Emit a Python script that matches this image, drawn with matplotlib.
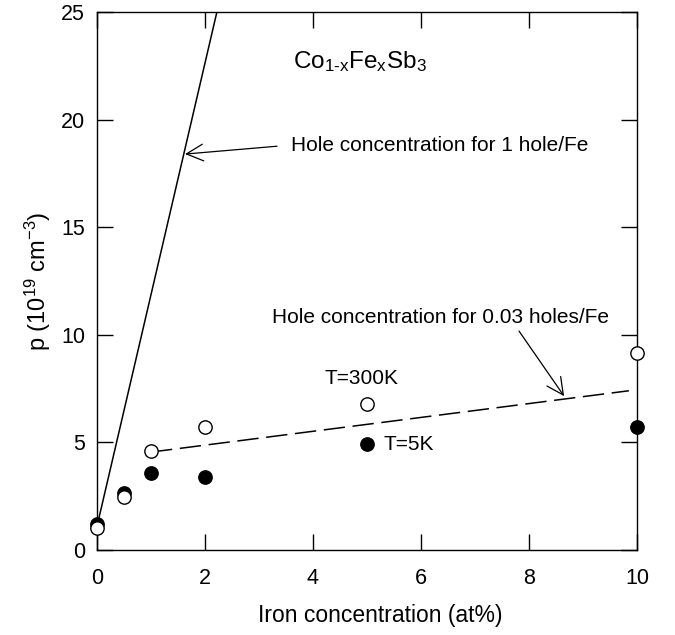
import matplotlib
matplotlib.use('Agg')
import matplotlib.pyplot as plt

plt.rcParams['font.family'] = ['Liberation Sans', 'DejaVu Sans']
plt.rcParams['mathtext.fontset'] = 'custom'
plt.rcParams['mathtext.rm'] = 'Liberation Sans'
plt.rcParams['mathtext.it'] = 'Liberation Sans'
plt.rcParams['mathtext.default'] = 'regular'

# iron content (at%) and hole concentration (10^19 cm^-3)
fe_at = [0, 0.5, 1, 2, 5, 10]
p_300k = [1.0, 2.45, 4.6, 5.7, 6.8, 9.15]
p_5k = [1.2, 2.65, 3.6, 3.4, 4.93, 5.7]

# reference lines: 1 hole/Fe and 0.03 holes/Fe
one_hole_x = [0, 2.22]
one_hole_p = [1.1, 25]
frac_hole_x = [1, 9.85]
frac_hole_p = [4.55, 7.4]

fig = plt.figure(figsize=(6.75, 6.35), dpi=100)
ax = fig.add_axes([0.1437, 0.1339, 0.80, 0.8471])

ax.plot(one_hole_x, one_hole_p, color='black', lw=1.1)
ax.plot(frac_hole_x, frac_hole_p, color='black', lw=1.1, dashes=(14, 5))

ax.plot(fe_at, p_5k, 'o', ms=9.6, mfc='black', mec='black', mew=1, clip_on=False, zorder=3)
ax.plot(fe_at, p_300k, 'o', ms=9.6, mfc='white', mec='black', mew=1, clip_on=False, zorder=4)

ax.set_xlim(0, 10)
ax.set_ylim(0, 25)
ax.set_xticks([0, 2, 4, 6, 8, 10])
ax.set_yticks([0, 5, 10, 15, 20, 25])
ax.tick_params(direction='in', length=11.5, width=1, top=True, right=True, labelsize=15.5)
ax.tick_params(axis='x', pad=13)
ax.tick_params(axis='y', pad=8.5)
for s in ax.spines.values():
    s.set_linewidth(1)

ax.set_xlabel('Iron concentration (at%)', fontsize=16.5)
ax.xaxis.set_label_coords(0.525, -0.1)
ax.set_ylabel(r'p (10$^{19}$ cm$^{-3}$)', fontsize=17, labelpad=6)

ax.text(3.63, 22.68, r'Co$_{1\text{-}x}$Fe$_x$Sb$_3$', fontsize=17.5, va='center', ha='left')

ax.annotate('Hole concentration for 1 hole/Fe', xy=(1.63, 18.4), xytext=(3.59, 18.82),
            fontsize=15, va='center', ha='left',
            arrowprops=dict(arrowstyle='->', color='black', lw=0.9,
                            mutation_scale=30, shrinkA=8, shrinkB=0,
                            relpos=(0.0, 0.5)))
ax.annotate('Hole concentration for 0.03 holes/Fe', xy=(8.65, 7.15), xytext=(3.24, 10.8),
            fontsize=15, va='center', ha='left',
            arrowprops=dict(arrowstyle='->', color='black', lw=0.9,
                            mutation_scale=30, shrinkA=1, shrinkB=0,
                            relpos=(0.725, 0.0)))

ax.text(5.59, 7.95, 'T=300K', fontsize=15, ha='right', va='center')
ax.text(5.3, 4.88, 'T=5K', fontsize=15, ha='left', va='center')

fig.savefig('out.png', dpi=100)
